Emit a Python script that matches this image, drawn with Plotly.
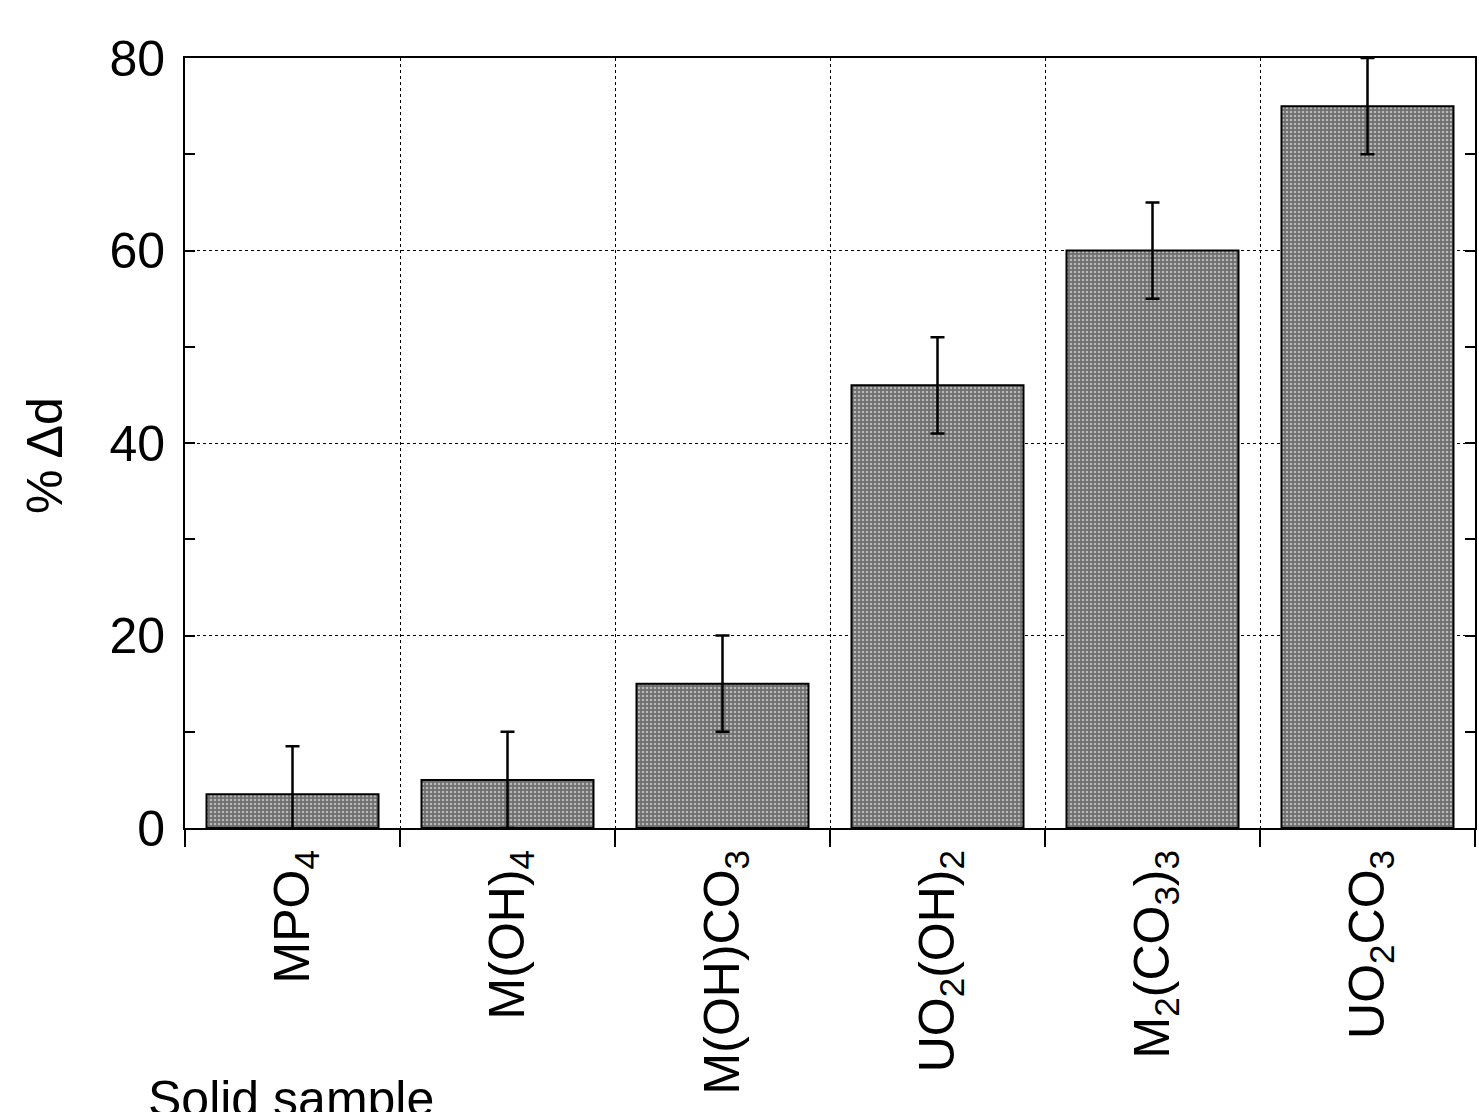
import plotly.graph_objects as go

categories = ["MPO<sub>4</sub>", "M(OH)<sub>4</sub>", "M(OH)CO<sub>3</sub>",
              "UO<sub>2</sub>(OH)<sub>2</sub>", "M<sub>2</sub>(CO<sub>3</sub>)<sub>3</sub>",
              "UO<sub>2</sub>CO<sub>3</sub>"]
values = [3.5, 5, 15, 46, 60, 75]
errors = [5, 5, 5, 5, 5, 5]
y_ticks = [0, 20, 40, 60, 80]

FONT = "Liberation Sans, Arial, sans-serif"
FS = 50

fig = go.Figure()
fig.add_trace(go.Bar(
    x=categories, y=values,
    marker=dict(color="#8a8a8a", line=dict(color="black", width=2),
                pattern=dict(shape=".", fgcolor="white", bgcolor="#6e6e6e",
                             size=4, solidity=0.35, fillmode="overlay")),
    error_y=dict(type="data", array=errors, visible=True, color="black",
                 thickness=2.5, width=7),
    showlegend=False,
))

fig.update_layout(
    width=1479, height=1112,
    margin=dict(l=185, r=2, t=58, b=284),
    paper_bgcolor="white", plot_bgcolor="white",
    bargap=0.2,
    font=dict(family=FONT, size=FS, color="black"),
    xaxis=dict(
        type="category", tickson="boundaries", ticks="outside", ticklen=17,
        tickwidth=2, tickcolor="black", tickangle=-90,
        showgrid=True, gridcolor="black", griddash="dot", gridwidth=1.3,
        showline=True, linecolor="black", linewidth=2, mirror=True,
        tickfont=dict(family=FONT, size=FS),
    ),
    yaxis=dict(
        range=[0, 80], tickvals=y_ticks, ticks="inside", ticklen=10,
        tickwidth=2, tickcolor="black",
        showgrid=True, gridcolor="black", griddash="dot", gridwidth=1.3,
        showline=True, linecolor="black", linewidth=2, mirror="ticks",
        zeroline=False, ticklabelstandoff=8,
        minor=dict(dtick=10, ticks="inside", ticklen=10, tickwidth=2,
                   tickcolor="black", showgrid=False),
        tickfont=dict(family=FONT, size=FS),
    ),
)

fig.add_annotation(text="% Δd", xref="paper", yref="paper",
                   x=-0.108, y=0.484, textangle=-90, showarrow=False,
                   font=dict(family=FONT, size=FS), xanchor="center", yanchor="middle")
fig.add_annotation(text="Solid sample", xref="paper", yref="paper",
                   x=-0.03, y=-0.352, showarrow=False, xanchor="left", yanchor="middle",
                   font=dict(family=FONT, size=FS))

fig.write_html("out.html", config={"displayModeBar": False},
               post_script="document.body.style.margin='0';"
                           "document.body.style.overflow='hidden';")
